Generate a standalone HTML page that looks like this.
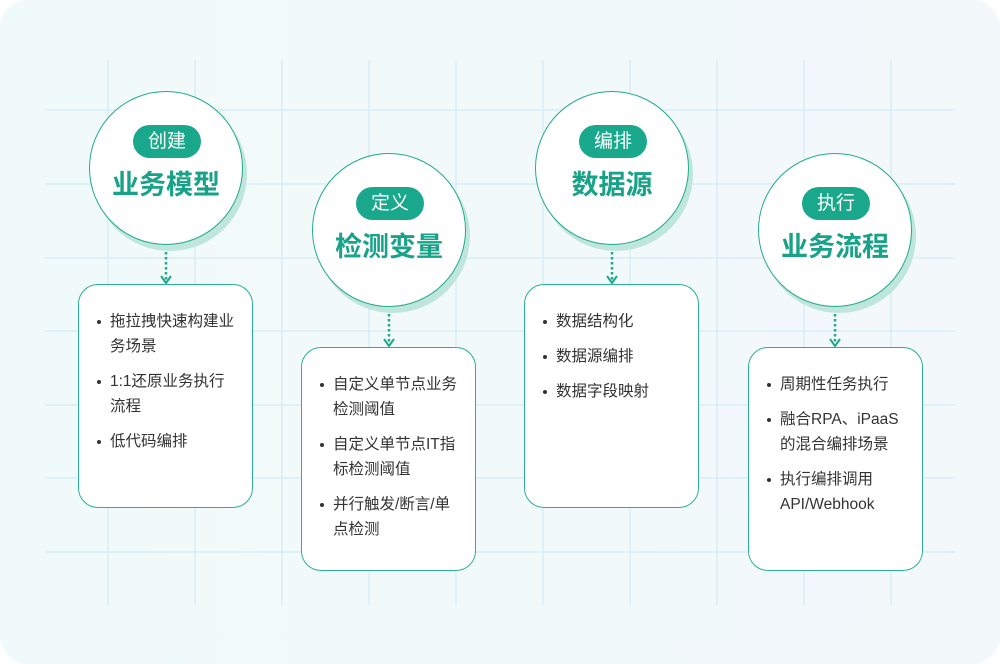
<!DOCTYPE html>
<html><head><meta charset="utf-8"><style>
*{margin:0;padding:0;box-sizing:border-box}
body{width:1000px;height:664px;background:#fff;font-family:"Liberation Sans","Noto Sans CJK SC",sans-serif;position:relative;overflow:hidden}
.bg{position:absolute;left:0;top:0;width:1000px;height:664px;border-radius:28px;background:linear-gradient(90deg,#f1fafa,#f3f8fb)}
.c{position:absolute;width:154px;height:154px;border-radius:50%;background:#fff;border:1.5px solid #23a98d;box-shadow:4px 6px 0 #bfe6dd}
.pill{position:absolute;left:43px;width:68px;height:33px;border-radius:17px;background:#1aa88c;color:#fff;font-size:19px;line-height:33px;text-align:center}
.t{position:absolute;left:0;width:100%;text-align:center;color:#18a287;font-size:27px;font-weight:bold;line-height:32px}
.b{position:absolute;width:175px;height:224px;border:1.5px solid #2bb095;border-radius:20px;background:#fff}
.b ul{list-style:none;position:absolute;left:31px;top:24px;width:140px}
.b li{position:relative;font-size:15.5px;line-height:25px;color:#333;margin-bottom:10px}
.b li:before{content:"";position:absolute;left:-13px;top:11px;width:4px;height:4px;border-radius:50%;background:#333}
</style></head><body>
<div class="bg"></div>
<svg width="1000" height="664" style="position:absolute;left:0;top:0">
<g stroke="#d4eaf5" stroke-width="1.2">
<line x1="108" y1="60" x2="108" y2="605"/><line x1="195" y1="60" x2="195" y2="605"/><line x1="282" y1="60" x2="282" y2="605"/><line x1="369" y1="60" x2="369" y2="605"/><line x1="456" y1="60" x2="456" y2="605"/><line x1="543" y1="60" x2="543" y2="605"/><line x1="630" y1="60" x2="630" y2="605"/><line x1="717" y1="60" x2="717" y2="605"/><line x1="804" y1="60" x2="804" y2="605"/><line x1="891" y1="60" x2="891" y2="605"/>
<line x1="45" y1="110" x2="955" y2="110"/><line x1="45" y1="184" x2="955" y2="184"/><line x1="45" y1="258" x2="955" y2="258"/><line x1="45" y1="331" x2="955" y2="331"/><line x1="45" y1="405" x2="955" y2="405"/><line x1="45" y1="478" x2="955" y2="478"/><line x1="45" y1="552" x2="955" y2="552"/>
</g>
<g stroke="#1fa98c" stroke-width="2.5" fill="none" stroke-dasharray="2.5 2.5">
<line x1="166" y1="247" x2="166" y2="282"/><line x1="389" y1="309" x2="389" y2="345"/><line x1="612" y1="247" x2="612" y2="282"/><line x1="835" y1="309" x2="835" y2="345"/>
</g>
<g stroke="#1fa98c" stroke-width="2" fill="none">
<polyline points="161,276 166,283 171,276"/><polyline points="384,339 389,346 394,339"/><polyline points="607,276 612,283 617,276"/><polyline points="830,339 835,346 840,339"/>
</g>
</svg>
<div class="c" style="left:89px;top:91px"><div class="pill" style="top:33px">创建</div><div class="t" style="top:77px">业务模型</div></div>
<div class="c" style="left:312px;top:153px"><div class="pill" style="top:33px">定义</div><div class="t" style="top:77px">检测变量</div></div>
<div class="c" style="left:535px;top:91px"><div class="pill" style="top:33px">编排</div><div class="t" style="top:77px">数据源</div></div>
<div class="c" style="left:758px;top:153px"><div class="pill" style="top:33px">执行</div><div class="t" style="top:77px">业务流程</div></div>
<div class="b" style="left:78px;top:284px"><ul><li>拖拉拽快速构建业<br>务场景</li><li>1:1还原业务执行<br>流程</li><li>低代码编排</li></ul></div>
<div class="b" style="left:301px;top:347px"><ul><li>自定义单节点业务<br>检测阈值</li><li>自定义单节点IT指<br>标检测阈值</li><li>并行触发/断言/单<br>点检测</li></ul></div>
<div class="b" style="left:524px;top:284px"><ul><li>数据结构化</li><li>数据源编排</li><li>数据字段映射</li></ul></div>
<div class="b" style="left:748px;top:347px"><ul><li>周期性任务执行</li><li>融合RPA、iPaaS<br>的混合编排场景</li><li>执行编排调用<br>API/Webhook</li></ul></div>
</body></html>
